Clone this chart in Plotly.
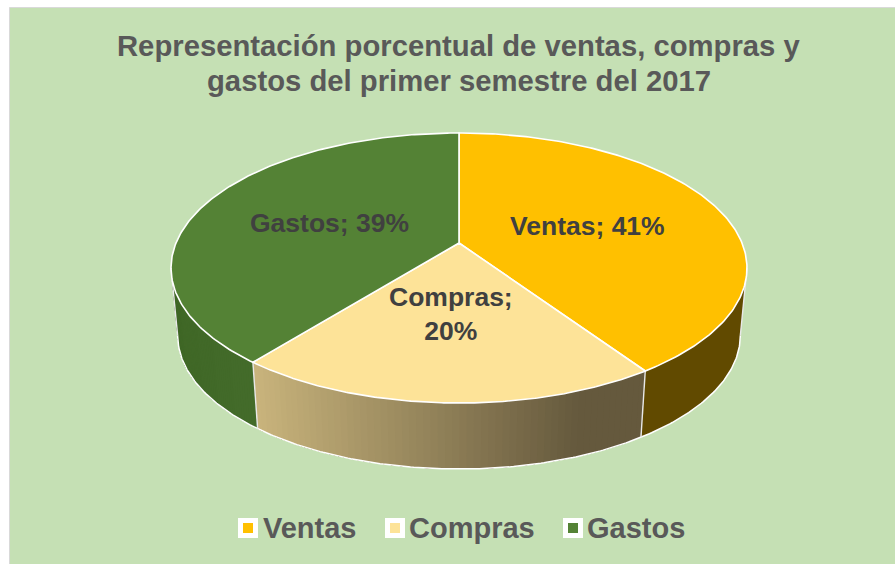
import numpy as np
import plotly.graph_objects as go

# (labels show the rounded percent)
categories = ["Ventas", "Compras", "Gastos"]
values = [40.6, 20.1, 39.3]
top_colors = ["#FFC000", "#FDE398", "#548235"]
side_left = ["#614A00", "#C9B47C", "#3F6726"]
side_right = ["#614A00", "#65593D", "#436B2A"]
legend_text_x = [261, 407, 585]
legend_box_x = [248, 395, 573]
label_pos = [(587, 226), (451, 314), (329, 223)]
label_text = ["Ventas; 41%", "Compras;<br>20%", "Gastos; 39%"]

title_lines = ["Representación porcentual de ventas, compras y",
               "gastos del primer semestre del 2017"]
title_y = [46, 81]
FONT = "Liberation Sans"
BG = "#C5E0B4"

# pie projection, in page pixels
CX, CY = 459, 243
K = 0.1852
A, B = 283, 130.4
SHRINK_X, SHRINK_Y, DROP = 0.977, 0.99, 70


def rim(theta):
    w = 1 + K * np.cos(theta)
    return CX + A * np.sin(theta) / w, CY - B * np.cos(theta) / w


def lower(x, y):
    return CX + (x - CX) * SHRINK_X, y * SHRINK_Y + DROP


def mix(c1, c2, t):
    a = [int(c1[i:i + 2], 16) for i in (1, 3, 5)]
    b = [int(c2[i:i + 2], 16) for i in (1, 3, 5)]
    return "rgb(%d,%d,%d)" % tuple(round(p + (q - p) * t) for p, q in zip(a, b))


def poly(fig, x, y, color, line=None, width=0.0, fill=True):
    fig.add_trace(go.Scatter(
        x=x, y=y, mode="lines", fill="toself" if fill else "none",
        fillcolor=color if fill else None,
        line=dict(color=line or color, width=width),
        hoverinfo="skip", showlegend=False,
    ))


fig = go.Figure()

edges = np.cumsum([0] + values) / sum(values) * 2 * np.pi
# silhouette of the disc, the side wall is only seen below it
sil = np.arccos(-K)

# side wall first, the top face goes over it
for i in range(len(values)):
    t0 = max(edges[i], sil)
    t1 = min(edges[i + 1], 2 * np.pi - sil)
    if t1 <= t0:
        continue
    n = 60 if side_left[i] != side_right[i] else 1
    steps = np.linspace(t0, t1, n + 1)
    x_all = rim(steps)[0]
    lo, hi = x_all.min(), x_all.max()
    # each strip runs on to the slice end, so the next one paints over it without seams
    for j in range(n):
        tt = np.linspace(steps[j], t1, 80)
        x, y = rim(tt)
        xb, yb = lower(x, y)
        pos = (rim(steps[j:j + 2])[0].mean() - lo) / (hi - lo)
        # the shading levels off before the right end of the wall
        poly(fig, list(x) + list(xb[::-1]), list(y) + list(yb[::-1]),
             mix(side_left[i], side_right[i], min(1, pos * 1.2)))

# white edges of the wall
tt = np.linspace(sil, 2 * np.pi - sil, 300)
x, y = rim(tt)
xb, yb = lower(x, y)
poly(fig, xb, yb, "white", width=1.5, fill=False)
for t in [sil, 2 * np.pi - sil, edges[1], edges[2]]:
    x0, y0 = rim(np.array([t]))
    x1, y1 = lower(x0, y0)
    poly(fig, [x0[0], x1[0]], [y0[0], y1[0]], "#E8E8E8", width=1.4, fill=False)

# top face
for i in range(len(values)):
    tt = np.linspace(edges[i], edges[i + 1], 200)
    x, y = rim(tt)
    poly(fig, [CX] + list(x) + [CX], [CY] + list(y) + [CY], top_colors[i],
         line="white", width=1.6)

for (px, py), txt in zip(label_pos, label_text):
    fig.add_annotation(x=px, y=py, text=txt, showarrow=False,
                       font=dict(family=FONT, size=26.5, color="#404040", weight="bold"))

# legend
for i, name in enumerate(categories):
    fig.add_trace(go.Scatter(x=[legend_box_x[i]], y=[528], mode="markers",
                             marker=dict(symbol="square", size=20, color="white"),
                             hoverinfo="skip", showlegend=False))
    fig.add_trace(go.Scatter(x=[legend_box_x[i]], y=[528], mode="markers",
                             marker=dict(symbol="square", size=10, color=top_colors[i]),
                             hoverinfo="skip", showlegend=False))
    fig.add_annotation(x=legend_text_x[i], y=528, text=name, showarrow=False, xanchor="left",
                       font=dict(family=FONT, size=29, color="#595959", weight="bold"))

for line, ty in zip(title_lines, title_y):
    fig.add_annotation(x=458.5, y=ty, text=line, showarrow=False,
                       font=dict(family=FONT, size=29.25, color="#595959", weight="bold"))

fig.update_layout(
    width=895, height=564,
    margin=dict(l=0, r=0, t=0, b=0),
    paper_bgcolor="white", plot_bgcolor="white",
    xaxis=dict(range=[0, 895], visible=False),
    yaxis=dict(range=[564, 0], visible=False),
    shapes=[dict(type="rect", x0=9.5, y0=7.5, x1=900, y1=570, layer="below",
                 fillcolor=BG, line=dict(color="#D9D9D9", width=1))],
)

fig.write_html("out.html", config=dict(displayModeBar=False),
               post_script="document.body.style.margin='0';")
